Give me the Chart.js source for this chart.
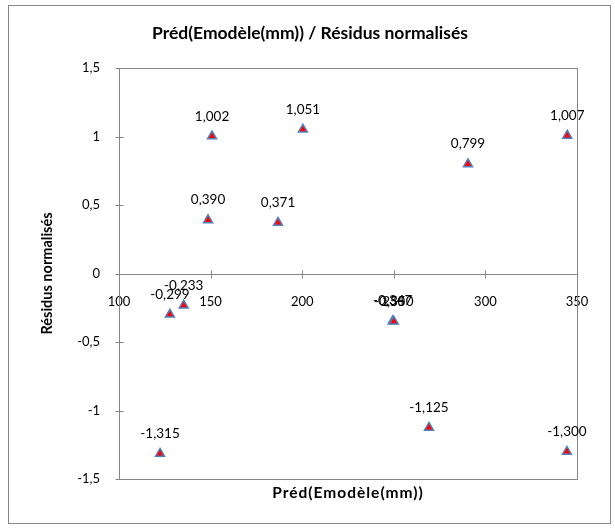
<!DOCTYPE html>
<html>
<head>
<meta charset="utf-8">
<script src="https://cdn.jsdelivr.net/npm/chart.js@4"></script>
<style>
  html, body { margin: 0; padding: 0; background: #fff; }
</style>
</head>
<body>
<canvas id="chart" width="615" height="529"></canvas>
<script>
// --- data ---
const predValues = [122.4, 127.8, 135.3, 148.6, 150.8, 186.8, 200.4, 249.4, 250.0, 269.2, 290.5, 344.7, 344.5];
const residuals  = [-1.315, -0.299, -0.233, 0.390, 1.002, 0.371, 1.051, -0.347, -0.350, -1.125, 0.799, 1.007, -1.300];
const xTicks = [100, 150, 200, 250, 300, 350];
const yTicks = [-1.5, -1, -0.5, 0, 0.5, 1, 1.5];

const chartTitle = 'Préd(Emodèle(mm)) / Résidus normalisés';
const xTitle = 'Préd(Emodèle(mm))';
const yTitle = 'Résidus normalisés';

const FONT = 'Lato, "Open Sans", sans-serif';
const axisGray = '#868686';

const points = predValues.map((x, i) => ({ x, y: residuals[i] }));
const fmt = v => String(v).replace('.', ',');

// cadre, axes, graduations, titres
const framePlugin = {
    id: 'frame',
    beforeDraw(chart) {
        const ctx = chart.ctx;
        ctx.save();
        ctx.fillStyle = '#fff';
        ctx.fillRect(0, 0, chart.width, chart.height);
        ctx.strokeStyle = axisGray;
        ctx.lineWidth = 1;
        ctx.strokeRect(8.5, 5.5, 602, 518);
        ctx.restore();
    },
    beforeDatasetsDraw(chart) {
        const ctx = chart.ctx;
        const a = chart.chartArea;
        const xs = chart.scales.x, ys = chart.scales.y;
        ctx.save();
        ctx.strokeStyle = axisGray;
        ctx.lineWidth = 1;
        ctx.strokeRect(Math.round(a.left) + 0.5, Math.round(a.top) + 0.5,
            Math.round(a.right - a.left), Math.round(a.bottom - a.top));
        const y0 = Math.round(ys.getPixelForValue(0)) + 0.5;
        ctx.beginPath();
        ctx.moveTo(a.left, y0);
        ctx.lineTo(a.right, y0);
        xTicks.forEach(t => {
            const px = Math.round(xs.getPixelForValue(t)) + 0.5;
            ctx.moveTo(px, y0 - 4);
            ctx.lineTo(px, y0 + 4);
        });
        const x0 = Math.round(a.left) + 0.5;
        yTicks.forEach(t => {
            const py = Math.round(ys.getPixelForValue(t)) + 0.5;
            ctx.moveTo(x0 - 4, py);
            ctx.lineTo(x0 + 4, py);
        });
        ctx.stroke();

        // titres
        ctx.fillStyle = '#000';
        ctx.textAlign = 'center';
        ctx.textBaseline = 'middle';
        ctx.font = 'bold 17.5px ' + FONT;
        ctx.fillText(chartTitle, 310, 33);
        ctx.font = 'bold 15.5px ' + FONT;
        ctx.letterSpacing = '1px';
        ctx.fillText(xTitle, (a.left + a.right) / 2, 493);
        ctx.letterSpacing = '0px';
        ctx.font = 'bold 14.5px ' + FONT;
        ctx.translate(47, (a.top + a.bottom) / 2);
        ctx.rotate(-Math.PI / 2);
        ctx.fillText(yTitle, 0, 0);
        ctx.restore();
    },
    afterDatasetsDraw(chart) {
        const ctx = chart.ctx;
        const meta = chart.getDatasetMeta(0);
        ctx.save();
        ctx.font = '13.5px ' + FONT;
        ctx.fillStyle = '#000';
        ctx.textAlign = 'center';
        ctx.textBaseline = 'middle';
        meta.data.forEach((el, i) => {
            ctx.fillText(residuals[i].toFixed(3).replace('.', ','), el.x, el.y - 20);
        });
        ctx.restore();
    }
};

new Chart(document.getElementById('chart'), {
    type: 'scatter',
    data: {
        datasets: [{
            data: points,
            pointStyle: 'triangle',
            pointRadius: 5.2,
            pointHoverRadius: 5.2,
            backgroundColor: '#ff0000',
            borderColor: '#4f81bd',
            borderWidth: 1.5
        }]
    },
    options: {
        responsive: false,
        devicePixelRatio: 1,
        animation: false,
        layout: { padding: { left: 0, right: 38, top: 68, bottom: 50 } },
        plugins: {
            legend: { display: false },
            tooltip: { enabled: false },
            title: { display: false }
        },
        scales: {
            x: {
                type: 'linear',
                min: 100,
                max: 350,
                position: { y: 0 },
                grid: { display: false, drawTicks: false },
                border: { display: false },
                afterBuildTicks(scale) { scale.ticks = xTicks.map(v => ({ value: v })); },
                ticks: {
                    color: '#000',
                    font: { family: FONT, size: 13 },
                    padding: 21,
                    maxRotation: 0,
                    callback: v => fmt(v)
                }
            },
            y: {
                type: 'linear',
                min: -1.5,
                max: 1.5,
                position: 'left',
                grid: { display: false, drawTicks: false },
                border: { display: false },
                afterBuildTicks(scale) { scale.ticks = yTicks.map(v => ({ value: v })); },
                afterFit(scale) { scale.width = 119; },
                ticks: {
                    color: '#000',
                    font: { family: FONT, size: 13 },
                    padding: 19,
                    callback: v => fmt(v)
                }
            }
        }
    },
    plugins: [framePlugin]
});
</script>
</body>
</html>
